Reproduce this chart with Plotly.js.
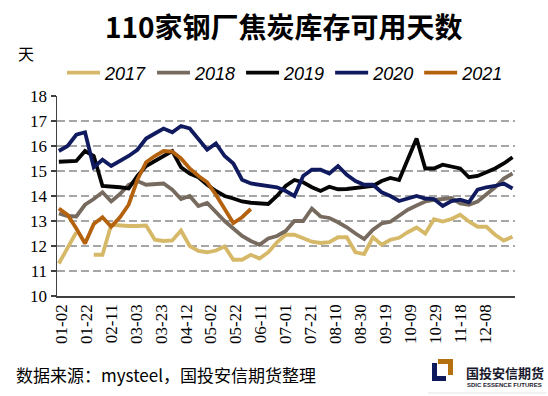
<!DOCTYPE html>
<html>
<head>
<meta charset="utf-8">
<script src="https://cdn.plot.ly/plotly-3.0.1.min.js"></script>
<style>html,body{margin:0;padding:0;background:#fff;}#chart{width:548px;height:396px;}</style>
</head>
<body>
<div id="chart"></div>
<script>
// ---- data ----
const weekStart = '2020-12-31';   // first weekly point (month-day axis)
const tickLabels = ['01-02','01-22','02-11','03-03','03-23','04-12','05-02','05-22','06-11','07-01','07-21','08-10','08-30','09-19','10-09','10-29','11-18','12-08'];
const years = ['2017','2018','2019','2020','2021'];
const v2017 = [11.3,11.95,12.55,null,11.65,11.65,12.85,12.82,12.8,12.8,12.82,12.25,12.2,12.22,12.62,12.0,11.8,11.75,11.82,11.98,11.45,11.45,11.65,11.5,11.75,12.15,12.45,12.45,12.3,12.17,12.12,12.15,12.35,12.35,11.75,11.68,12.35,12.05,12.25,12.33,12.55,12.74,12.5,13.07,12.98,13.08,13.25,12.98,12.77,12.77,12.45,12.22,12.37];
const v2018 = [13.3,13.2,13.18,13.65,13.88,14.15,13.78,14.08,14.45,14.6,14.45,14.47,14.5,14.25,13.88,14.0,13.6,13.72,13.35,13.0,12.7,12.4,12.2,12.05,12.3,12.4,12.6,13.0,13.0,13.5,13.18,13.12,12.95,12.75,12.5,12.28,12.65,12.9,12.97,13.22,13.45,13.62,13.78,13.84,13.87,13.92,13.7,13.65,13.78,14.05,14.35,14.7,14.9];
const v2019 = [15.37,15.38,15.4,15.8,15.6,14.4,14.38,14.35,14.3,14.8,15.2,15.4,15.6,15.8,15.15,14.9,14.75,14.45,14.2,14.0,13.9,13.78,13.73,13.7,13.68,14.0,14.4,14.64,14.55,14.35,14.2,14.37,14.27,14.28,14.32,14.35,14.4,14.6,14.72,14.64,15.45,16.3,15.1,15.1,15.25,15.18,15.1,14.75,14.8,14.95,15.1,15.3,15.55];
const v2020 = [15.8,16.0,16.45,16.55,15.15,15.45,15.2,15.4,15.6,15.85,16.3,16.5,16.7,16.55,16.8,16.7,16.3,15.85,16.1,15.6,15.3,14.65,14.5,14.45,14.4,14.35,14.2,14.0,14.8,15.05,15.05,14.9,15.2,14.85,14.6,14.45,14.45,14.15,14.0,13.8,13.9,14.0,13.9,13.88,13.6,13.8,13.85,13.75,14.25,14.35,14.4,14.5,14.3];
const v2021 = [13.5,13.25,12.7,12.1,12.88,13.15,12.77,13.15,13.65,14.65,15.35,15.6,15.8,15.78,15.5,15.1,14.8,14.55,14.05,13.5,12.92,13.15,13.48];
const colors = ['#D6B968','#766B5E','#050505','#101A5E','#B5620F'];

// ---- build ----
const seriesVals = [v2017, v2018, v2019, v2020, v2021];
function weekDates(n) {
  const out = [];
  const d0 = new Date(weekStart + 'T00:00:00Z');
  for (let i = 0; i < n; i++) {
    const d = new Date(d0.getTime() + i * 7 * 86400000);
    out.push(d.toISOString().slice(0, 10));
  }
  return out;
}
const traces = years.map((y, k) => ({
  type: 'scatter', mode: 'lines', name: y,
  x: weekDates(seriesVals[k].length), y: seriesVals[k],
  line: {color: colors[k], width: 3.8}, connectgaps: false,
  hoverinfo: 'skip'
}));

const L = 57, R = 515, T = 96, B = 296;
const px = x => (x - L) / (R - L);
const py = y => (B - y) / (B - T);

const layout = {
  width: 548, height: 396,
  margin: {l: L, r: 548 - R, t: T, b: 396 - B, pad: 0},
  paper_bgcolor: '#fff', plot_bgcolor: '#fff',
  showlegend: true,
  title: {
    text: '<b>110家钢厂焦炭库存可用天数</b>',
    font: {family: 'Noto Sans CJK SC', size: 28, color: '#000'},
    x: 0.495, xref: 'paper', xanchor: 'center',
    y: 1 - 28 / 396, yref: 'container', yanchor: 'middle'
  },
  legend: {
    orientation: 'h', x: px(62), y: py(73), xanchor: 'left', yanchor: 'middle',
    font: {family: 'Liberation Sans', size: 18, style: 'italic', color: '#000'},
    bgcolor: 'rgba(0,0,0,0)', itemwidth: 33, traceorder: 'normal'
  },
  xaxis: {
    type: 'date', range: ['2020-12-29 12:00', '2022-01-01'],
    tickvals: tickLabels.map(t => '2021-' + t), ticktext: tickLabels,
    tickangle: -90, ticks: '', showgrid: false, zeroline: false,
    showline: true, linecolor: '#404040', linewidth: 1.5,
    tickfont: {family: 'Liberation Serif', size: 17, color: '#000'},
    fixedrange: true
  },
  yaxis: {
    range: [10, 18], dtick: 1, tick0: 10,
    showgrid: true, gridcolor: '#A6A6A6', gridwidth: 1.5, griddash: '8px,4px',
    zeroline: false, showline: true, linecolor: '#404040', linewidth: 1.5,
    ticks: 'outside', ticklen: 5, tickcolor: '#404040', tickwidth: 1.2,
    tickfont: {family: 'Liberation Serif', size: 17, color: '#000'},
    fixedrange: true
  },
  annotations: [
    {text: '天', xref: 'paper', yref: 'paper', x: px(16), y: py(53), xanchor: 'left', yanchor: 'middle',
     showarrow: false, font: {family: 'Noto Sans CJK SC', size: 16, color: '#000'}},
    {text: '数据来源：mysteel，国投安信期货整理', xref: 'paper', yref: 'paper', x: px(14), y: py(374),
     xanchor: 'left', yanchor: 'middle', showarrow: false,
     font: {family: 'Noto Sans CJK SC', size: 17, color: '#000'}},
    {text: '<b>国投安信期货</b>', xref: 'paper', yref: 'paper', x: px(464), y: py(372.5),
     xanchor: 'left', yanchor: 'middle', showarrow: false,
     font: {family: 'Noto Sans CJK SC', size: 13, color: '#1a1a2e'}},
    {text: '<b>SDIC ESSENCE FUTURES</b>', xref: 'paper', yref: 'paper', x: px(465), y: py(385),
     xanchor: 'left', yanchor: 'middle', showarrow: false,
     font: {family: 'Liberation Sans', size: 6, color: '#1a1a2e'}}
  ],
  shapes: [
    {type: 'path', xref: 'paper', yref: 'paper', fillcolor: '#0F1A5C', line: {width: 0},
     path: `M${px(432)},${py(363)} L${px(437)},${py(363)} L${px(437)},${py(376)} L${px(446)},${py(376)} L${px(446)},${py(381)} L${px(432)},${py(381)} Z`},
    {type: 'path', xref: 'paper', yref: 'paper', fillcolor: '#B5700F', line: {width: 0},
     path: `M${px(438)},${py(359)} L${px(453)},${py(359)} L${px(453)},${py(375)} L${px(448)},${py(375)} L${px(448)},${py(364)} L${px(438)},${py(364)} Z`},
    {type: 'line', xref: 'paper', yref: 'paper', x0: px(428), x1: px(546), y0: py(393), y1: py(393),
     line: {color: '#E3E3E3', width: 1}}
  ]
};

Plotly.newPlot('chart', traces, layout, {displayModeBar: false, staticPlot: true});
</script>
</body>
</html>
